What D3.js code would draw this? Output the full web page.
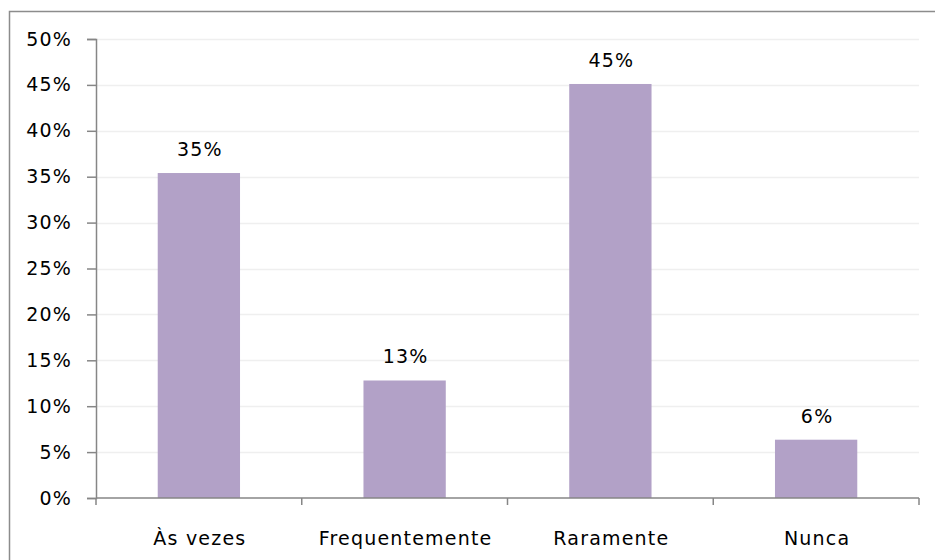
<!DOCTYPE html>
<html>
<head>
<meta charset="utf-8">
<script src="https://cdn.jsdelivr.net/npm/d3@7"></script>
<style>
  html, body { margin: 0; padding: 0; background: #fff; }
  svg { display: block; }
  text { font-family: "DejaVu Sans", "Noto Sans", sans-serif; fill: #000; letter-spacing: 1.2px; }
</style>
</head>
<body>
<svg id="chart" width="935" height="560"></svg>
<script>
// Frequência das respostas
const categories = ["Às vezes", "Frequentemente", "Raramente", "Nunca"];
const values = [0.354, 0.128, 0.451, 0.0635];
const yTicks = [0, 0.05, 0.10, 0.15, 0.20, 0.25, 0.30, 0.35, 0.40, 0.45, 0.50];

const svg = d3.select("#chart");
const margin = { left: 96, right: 16, top: 39, bottom: 62 };
const W = 935, H = 560;
const FS = 19;

// Chart frame (runs past the right and bottom edges)
svg.append("rect")
  .attr("x", 9.5).attr("y", 11.5)
  .attr("width", 940).attr("height", 560)
  .attr("fill", "none").attr("stroke", "#8c8c8c").attr("stroke-width", 1.5);

const x = d3.scaleBand()
  .domain(categories)
  .range([margin.left, W - margin.right])
  .paddingInner(0.6).paddingOuter(0.3);

const y = d3.scaleLinear()
  .domain([0, 0.5])
  .range([H - margin.bottom, margin.top]);

// Gridlines
svg.append("g").selectAll("line")
  .data(yTicks.filter(d => d > 0))
  .join("line")
  .attr("x1", margin.left).attr("x2", W - margin.right)
  .attr("y1", d => Math.round(y(d)) + 0.5).attr("y2", d => Math.round(y(d)) + 0.5)
  .attr("stroke", "#efefef").attr("stroke-width", 1.5);

// Bars
svg.append("g").selectAll("rect")
  .data(values)
  .join("rect")
  .attr("x", (d, i) => x(categories[i]))
  .attr("width", x.bandwidth())
  .attr("y", d => y(d))
  .attr("height", d => y(0) - y(d))
  .attr("fill", "#b2a1c7");

// Data labels
const fmt = d3.format(".0%");
svg.append("g").selectAll("text")
  .data(values)
  .join("text")
  .attr("x", (d, i) => x(categories[i]) + x.bandwidth() / 2 + 1)
  .attr("y", d => y(d) - 17)
  .attr("text-anchor", "middle")
  .attr("font-size", FS)
  .text(d => fmt(d));

// Y axis
const yAxis = d3.axisLeft(y)
  .tickValues(yTicks)
  .tickFormat(d3.format(".0%"))
  .tickSize(9)
  .tickPadding(15);
const gy = svg.append("g")
  .attr("transform", `translate(${margin.left},0)`)
  .call(yAxis);
gy.select(".domain").attr("stroke", "#868686").attr("stroke-width", 1.5);
gy.selectAll(".tick line").attr("stroke", "#868686").attr("stroke-width", 1.5);
gy.selectAll(".tick text").attr("font-size", FS).attr("fill", "#000")
  .attr("font-family", "DejaVu Sans, sans-serif");

// X axis with boundary ticks between categories
const gx = svg.append("g").attr("transform", `translate(0,${y(0)})`);
gx.append("line")
  .attr("x1", margin.left).attr("x2", W - margin.right)
  .attr("y1", 0).attr("y2", 0)
  .attr("stroke", "#868686").attr("stroke-width", 1.5);
const bounds = d3.range(categories.length + 1).map(i => margin.left + i * (W - margin.left - margin.right) / categories.length);
gx.selectAll("line.tk")
  .data(bounds)
  .join("line").attr("class", "tk")
  .attr("x1", d => d).attr("x2", d => d)
  .attr("y1", 0).attr("y2", 7)
  .attr("stroke", "#868686").attr("stroke-width", 1.5);
gx.selectAll("text")
  .data(categories)
  .join("text")
  .attr("x", d => x(d) + x.bandwidth() / 2 + 1)
  .attr("y", 47)
  .attr("text-anchor", "middle")
  .attr("font-size", FS)
  .text(d => d);
</script>
</body>
</html>
